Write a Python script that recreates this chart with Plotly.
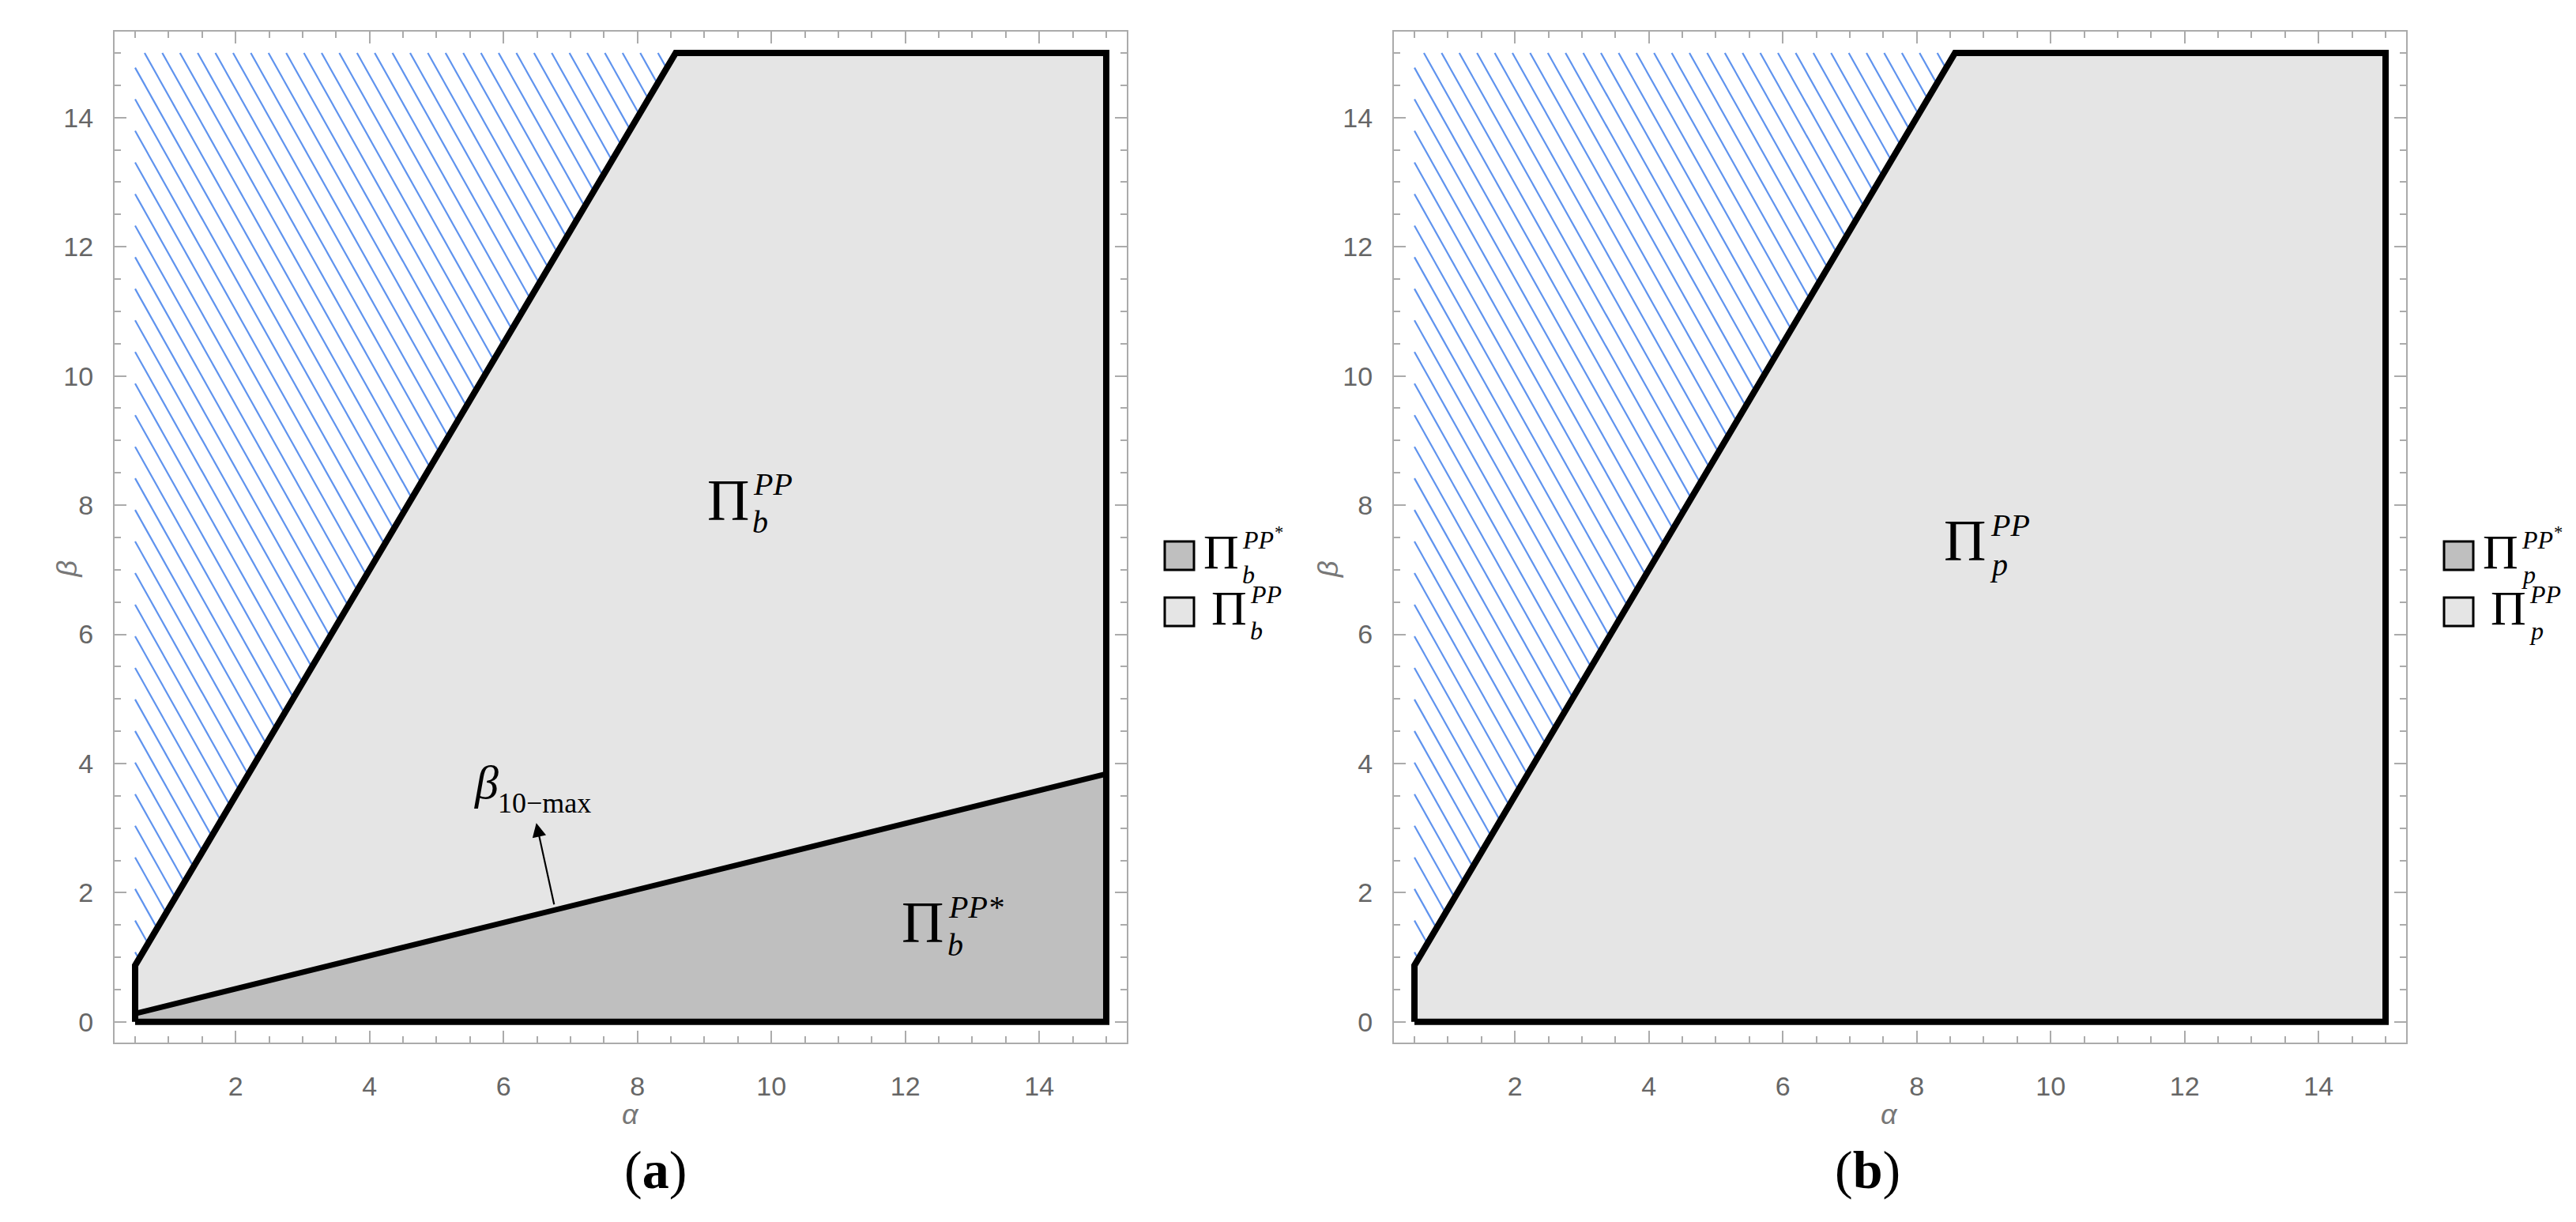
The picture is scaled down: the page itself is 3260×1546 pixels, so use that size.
import plotly.graph_objects as go

# feasible region (alpha, beta) and the beta_10-max split
alpha_feasible = [0.5, 15, 15, 8.571, 0.5]
beta_feasible = [0, 0, 15, 15, 0.875]
alpha_star = [0.5, 15, 15, 0.5]
beta_star = [0, 0, 3.84, 0.128]
alpha_b10 = [0.5, 15]
beta_b10 = [0.128, 3.84]
# infeasible (hatched) triangle: lower boundary vertex, upper boundary vertex, top-left corner
alpha_infeasible = [0.5, 8.571, 0.5]
beta_infeasible = [0.875, 15, 15]

x_ticks = [2, 4, 6, 8, 10, 12, 14]
y_ticks = [0, 2, 4, 6, 8, 10, 12, 14]

LIGHT = "#e5e5e5"
DARK = "#bfbfbf"
HATCH = "#5f93ee"
FRAME = "#ababab"
SERIF = "Liberation Serif"
SANS = "Liberation Sans"
W, H = 3260, 1546

# hatch texture settings (data units)
hatch_slope = 1.85
hatch_step = 0.489
hatch_anchor = 1.08


def hatch_segments(av, bv):
    a0, a1, a2 = av
    b0, b1, b2 = bv
    m = (b1 - b0) / (a1 - a0)
    xs, ys = [], []
    k = -int((hatch_anchor - b0) // hatch_step)
    while True:
        c = hatch_anchor + k * hatch_step
        k += 1
        if c < b0:
            continue
        if c <= b2:
            sa, sb = a0, c
        else:
            sa, sb = a0 + (c - b2) / hatch_slope, b2
        if sa >= a1:
            break
        ea = a0 + (c - b0) / (hatch_slope + m)
        eb = b0 + m * (ea - a0)
        if ea <= sa:
            continue
        xs += [sa, ea, None]
        ys += [sb, eb, None]
    return xs, ys


fig = go.Figure()


def add_panel(xa, ya, with_star):
    hx, hy = hatch_segments(alpha_infeasible, beta_infeasible)
    fig.add_trace(go.Scatter(x=hx, y=hy, mode="lines", line=dict(color=HATCH, width=2.2),
                             xaxis=xa, yaxis=ya, hoverinfo="skip"))
    fig.add_trace(go.Scatter(x=alpha_feasible, y=beta_feasible, mode="lines", fill="toself",
                             fillcolor=LIGHT, line=dict(width=0), xaxis=xa, yaxis=ya, hoverinfo="skip"))
    if with_star:
        fig.add_trace(go.Scatter(x=alpha_star, y=beta_star, mode="lines", fill="toself",
                                 fillcolor=DARK, line=dict(width=0), xaxis=xa, yaxis=ya, hoverinfo="skip"))
        fig.add_trace(go.Scatter(x=alpha_b10, y=beta_b10, mode="lines", line=dict(color="black", width=7),
                                 xaxis=xa, yaxis=ya, hoverinfo="skip"))
    fig.add_trace(go.Scatter(x=alpha_feasible + alpha_feasible[:1], y=beta_feasible + beta_feasible[:1],
                             mode="lines", line=dict(color="black", width=8), xaxis=xa, yaxis=ya, hoverinfo="skip"))


add_panel("x", "y", True)
add_panel("x2", "y2", False)


def axis(rng, domain, anchor, vals, standoff):
    return dict(range=rng, domain=domain, anchor=anchor, tickmode="array", tickvals=vals,
                automargin=False,
                showgrid=False, zeroline=False, showline=True, linecolor=FRAME, linewidth=2,
                mirror="allticks", ticks="inside", ticklen=15, tickwidth=2, tickcolor=FRAME,
                ticklabelstandoff=standoff,
                tickfont=dict(family=SANS, size=34, color="#666666"),
                minor=dict(tickmode="linear", tick0=0, dtick=0.5, ticks="inside", ticklen=8,
                           tickwidth=2, tickcolor=FRAME))


xr = [0.193, 15.307]
yr = [-0.32, 15.33]
ydom = [0.1520, 0.9793]
fig.update_layout(
    width=W, height=H, margin=dict(l=0, r=0, t=0, b=0),
    plot_bgcolor="white", paper_bgcolor="white", showlegend=False,
    xaxis=axis(xr, [0.04202, 0.43497], "y", x_ticks, 24),
    yaxis=axis(yr, ydom, "x", y_ticks, 18),
    xaxis2=axis(xr, [0.53865, 0.93160], "y2", x_ticks, 24),
    yaxis2=axis(yr, ydom, "x2", y_ticks, 18),
)


def pi_label(x, y, xref, yref, sub, sup, size, ssize, sup_dx, sup_dy, sub_dx, sub_dy):
    fig.add_annotation(x=x, y=y, xref=xref, yref=yref, text="Π", showarrow=False,
                       xanchor="center", yanchor="middle",
                       font=dict(family=SERIF, size=size, color="black"))
    fig.add_annotation(x=x, y=y, xref=xref, yref=yref, text="<i>" + sup + "</i>", showarrow=False,
                       xanchor="left", yanchor="middle", xshift=sup_dx, yshift=sup_dy,
                       font=dict(family=SERIF, size=ssize, color="black"))
    fig.add_annotation(x=x, y=y, xref=xref, yref=yref, text="<i>" + sub + "</i>", showarrow=False,
                       xanchor="left", yanchor="middle", xshift=sub_dx, yshift=sub_dy,
                       font=dict(family=SERIF, size=ssize, color="black"))


# region labels
pi_label(9.35, 8.08, "x", "y", "b", "PP", 74, 40, 30, 20, 29, -28)
pi_label(12.26, 1.54, "x", "y", "b", "PP*", 74, 40, 30, 20, 29, -28)
pi_label(8.72, 7.45, "x2", "y2", "p", "PP", 74, 40, 30, 20, 29, -30)

# beta_10-max label with arrow
fig.add_annotation(x=5.75, y=3.71, xref="x", yref="y", text="<i>β</i>", showarrow=False,
                   font=dict(family=SERIF, size=60, color="black"))
fig.add_annotation(x=5.75, y=3.71, xref="x", yref="y", text="10−max", showarrow=False,
                   xanchor="left", yanchor="middle", xshift=12, yshift=-26,
                   font=dict(family=SERIF, size=36, color="black"))
fig.add_annotation(x=6.49, y=3.08, xref="x", yref="y", ax=6.76, ay=1.80, axref="x", ayref="y",
                   text="", showarrow=True, arrowhead=2, arrowsize=1.6, arrowwidth=2.2, arrowcolor="black")

# legends (drawn beside each panel)
for off, sub in [(0, "b"), (1619, "p")]:
    for i, (fill, sup, pdx) in enumerate([(DARK, "PP<sup>*</sup>", 0), (LIGHT, "PP", 10)]):
        cy = 695 + 71 * i
        fig.add_shape(type="rect", xref="paper", yref="paper",
                      x0=(1466 + off) / W, x1=(1503 + off) / W,
                      y0=1 - (cy + 18) / H, y1=1 - (cy - 18) / H,
                      fillcolor=fill, line=dict(color="black", width=3))
        pi_label((1537 + off + pdx) / W, 1 - (cy - 5) / H, "paper", "paper", sub, sup,
                 62, 32, 25, 17, 25, -29)

# axis titles and captions
for off, tag in [(0, "a"), (1619, "b")]:
    fig.add_annotation(x=(777 + off) / W, y=1 - 1424 / H, xref="paper", yref="paper",
                       text="<i>α</i>", showarrow=False,
                       font=dict(family=SANS, size=36, color="#777777"))
    fig.add_annotation(x=(54 + off) / W, y=1 - 712 / H, xref="paper", yref="paper",
                       text="<i>β</i>", showarrow=False, textangle=-90,
                       font=dict(family=SANS, size=36, color="#777777"))
    fig.add_annotation(x=(780 + off) / W, y=1 - 1512 / H, xref="paper", yref="paper",
                       text="(<b>" + tag + "</b>)", showarrow=False,
                       font=dict(family=SERIF, size=68, color="black"))

fig.write_html("out.html")
